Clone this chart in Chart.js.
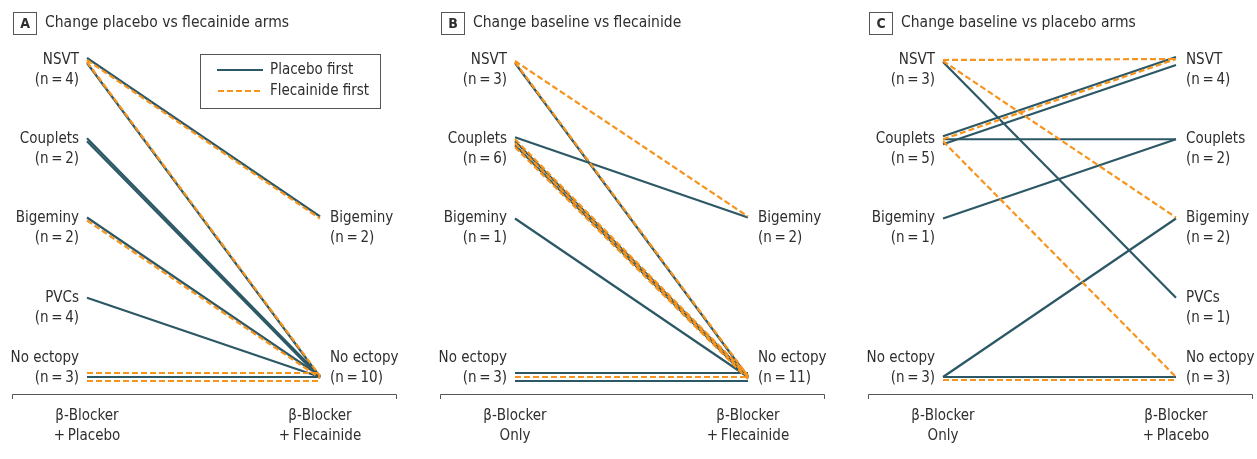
<!DOCTYPE html>
<html>
<head>
<meta charset="utf-8">
<script src="https://cdn.jsdelivr.net/npm/chart.js@4"></script>
<style>
  body { margin: 0; background: #fff; width: 1257px; height: 459px; overflow: hidden; position: relative; }
  canvas { position: absolute; top: 0; }
</style>
</head>
<body>
<canvas id="panelA" width="428" height="459" style="left:0px"></canvas>
<canvas id="panelB" width="428" height="459" style="left:428px"></canvas>
<canvas id="panelC" width="428" height="459" style="left:856px"></canvas>
<script>
// ectopy levels, bottom to top
const levels = ["No ectopy", "PVCs", "Bigeminy", "Couplets", "NSVT"];

// Panel A
const titleA = "Change placebo vs flecainide arms";
const armsA = [["β-Blocker", "+\u2009Placebo"], ["β-Blocker", "+\u2009Flecainide"]];
const leftCountsA = { "NSVT": 4, "Couplets": 2, "Bigeminy": 2, "PVCs": 4, "No ectopy": 3 };
const rightCountsA = { "Bigeminy": 2, "No ectopy": 10 };
// [from, to, order] P = placebo first, F = flecainide first
const linesA = [
  ["NSVT", "Bigeminy", "P"], ["NSVT", "Bigeminy", "F"],
  ["NSVT", "No ectopy", "P"], ["NSVT", "No ectopy", "F"],
  ["Couplets", "No ectopy", "P"], ["Couplets", "No ectopy", "P"],
  ["Bigeminy", "No ectopy", "P"], ["Bigeminy", "No ectopy", "F"],
  ["PVCs", "No ectopy", "P"],
  ["No ectopy", "No ectopy", "F"], ["No ectopy", "No ectopy", "P"], ["No ectopy", "No ectopy", "F"]
];
const nudgeA = [[-2, -2], [0, 0], [3, 0], [2, -1], [-1, -1], [2, 1], [-1, -1], [2, 1], [0, 0], [-4, -4], [0, 0], [4, 4]];

// Panel B
const titleB = "Change baseline vs flecainide";
const armsB = [["β-Blocker", "Only"], ["β-Blocker", "+\u2009Flecainide"]];
const leftCountsB = { "NSVT": 3, "Couplets": 6, "Bigeminy": 1, "No ectopy": 3 };
const rightCountsB = { "Bigeminy": 2, "No ectopy": 11 };
const linesB = [
  ["NSVT", "Bigeminy", "F"], ["NSVT", "No ectopy", "P"], ["NSVT", "No ectopy", "F"],
  ["Couplets", "Bigeminy", "P"],
  ["Couplets", "No ectopy", "F"], ["Couplets", "No ectopy", "P"], ["Couplets", "No ectopy", "F"],
  ["Couplets", "No ectopy", "P"], ["Couplets", "No ectopy", "F"],
  ["Bigeminy", "No ectopy", "P"],
  ["No ectopy", "No ectopy", "P"], ["No ectopy", "No ectopy", "F"], ["No ectopy", "No ectopy", "P"]
];
const nudgeB = [[1, -2], [3, 0], [2, -1], [-2, -1], [0, -2], [2, -1], [4, 0], [6, 1], [8, 2], [0, 0], [-4, -4], [0, 0], [4, 4]];

// Panel C
const titleC = "Change baseline vs placebo arms";
const armsC = [["β-Blocker", "Only"], ["β-Blocker", "+\u2009Placebo"]];
const leftCountsC = { "NSVT": 3, "Couplets": 5, "Bigeminy": 1, "No ectopy": 3 };
const rightCountsC = { "NSVT": 4, "Couplets": 2, "Bigeminy": 2, "PVCs": 1, "No ectopy": 3 };
const linesC = [
  ["NSVT", "NSVT", "F"], ["NSVT", "PVCs", "P"], ["NSVT", "Bigeminy", "F"],
  ["Couplets", "NSVT", "P"], ["Couplets", "NSVT", "F"], ["Couplets", "NSVT", "P"],
  ["Couplets", "Couplets", "P"], ["Couplets", "No ectopy", "F"],
  ["Bigeminy", "Couplets", "P"],
  ["No ectopy", "Bigeminy", "P"], ["No ectopy", "No ectopy", "P"], ["No ectopy", "No ectopy", "F"]
];
const nudgeC = [[0, -1], [2, 0], [1, -1], [-3, -3], [0, -1], [5, 5], [0, 0], [2, 0], [0, 0], [0, 0], [0, 0], [3, 3]];

const TEAL = "#2c5866";
const ORANGE = "#f7941d";
const TEXT = "#2e2e2e";
const FONT = "'DejaVu Sans Condensed', 'DejaVu Sans', sans-serif";
const PX_PER_LEVEL = 79.25;

function lvl(name) { return levels.indexOf(name); }

const labelPlugin = {
  id: "labels",
  afterDraw(chart) {
    const o = chart.options.plugins.labels;
    const ctx = chart.ctx;
    const xs = chart.scales.x, ys = chart.scales.y;
    const x0 = xs.getPixelForValue(0), x1 = xs.getPixelForValue(1);
    ctx.save();
    ctx.fillStyle = TEXT;
    ctx.textBaseline = "middle";
    ctx.font = "15px " + FONT;

    function levelLabels(counts, x, align) {
      ctx.textAlign = align;
      Object.keys(counts).forEach(name => {
        const py = ys.getPixelForValue(lvl(name));
        const top = lvl(name) === 0 ? py - 19 : py;
        ctx.fillText(name, x, top);
        ctx.fillText("(n\u2009=\u2009" + counts[name] + ")", x, top + 20);
      });
    }
    levelLabels(o.left, x0 - 8, "right");
    levelLabels(o.right, x1 + 10, "left");

    // title
    ctx.strokeStyle = "#555";
    ctx.lineWidth = 1;
    ctx.strokeRect(13.5, 12.5, 23, 22);
    ctx.font = "bold 14px " + FONT;
    ctx.textAlign = "center";
    ctx.fillText(o.letter, 25, 24);
    ctx.font = "15.5px " + FONT;
    ctx.textAlign = "left";
    ctx.fillText(o.title, 45, 23);

    // bottom axis
    ctx.beginPath();
    ctx.moveTo(12.5, 399);
    ctx.lineTo(12.5, 394.5);
    ctx.lineTo(396.5, 394.5);
    ctx.lineTo(396.5, 399);
    ctx.stroke();
    ctx.font = "15px " + FONT;
    ctx.textAlign = "center";
    [x0, x1].forEach((x, i) => {
      ctx.fillText(o.arms[i][0], x, 416);
      ctx.fillText(o.arms[i][1], x, 436);
    });

    if (o.legend) {
      ctx.strokeRect(200.5, 54.5, 180, 54);
      ctx.lineWidth = 2;
      ctx.strokeStyle = TEAL;
      ctx.beginPath(); ctx.moveTo(217, 70); ctx.lineTo(263, 70); ctx.stroke();
      ctx.strokeStyle = ORANGE;
      ctx.setLineDash([6, 3]);
      ctx.beginPath(); ctx.moveTo(218, 91); ctx.lineTo(263, 91); ctx.stroke();
      ctx.setLineDash([]);
      ctx.textAlign = "left";
      ctx.fillText("Placebo first", 270, 70);
      ctx.fillText("Flecainide first", 270, 91);
    }
    ctx.restore();
  }
};

function makePanel(id, letter, title, arms, leftCounts, rightCounts, lines, nudges, legend) {
  const datasets = lines.map((l, i) => ({
    data: [
      { x: 0, y: lvl(l[0]) - nudges[i][0] / PX_PER_LEVEL },
      { x: 1, y: lvl(l[1]) - nudges[i][1] / PX_PER_LEVEL }
    ],
    borderColor: l[2] === "P" ? TEAL : ORANGE,
    borderDash: l[2] === "P" ? [] : [6, 3],
    borderWidth: 2.2,
    pointRadius: 0,
    clip: false,
    order: l[2] === "P" ? 1 : 0
  }));
  return new Chart(document.getElementById(id), {
    type: "line",
    data: { datasets },
    options: {
      responsive: false,
      animation: false,
      layout: { padding: { left: 87, right: 108, top: 60, bottom: 82 } },
      scales: {
        x: { type: "linear", min: 0, max: 1, display: false },
        y: { type: "linear", min: 0, max: 4, display: false }
      },
      plugins: {
        legend: { display: false },
        tooltip: { enabled: false },
        labels: { letter, title, arms, left: leftCounts, right: rightCounts, legend }
      }
    },
    plugins: [labelPlugin]
  });
}

makePanel("panelA", "A", titleA, armsA, leftCountsA, rightCountsA, linesA, nudgeA, true);
makePanel("panelB", "B", titleB, armsB, leftCountsB, rightCountsB, linesB, nudgeB, false);
makePanel("panelC", "C", titleC, armsC, leftCountsC, rightCountsC, linesC, nudgeC, false);
</script>
</body>
</html>
